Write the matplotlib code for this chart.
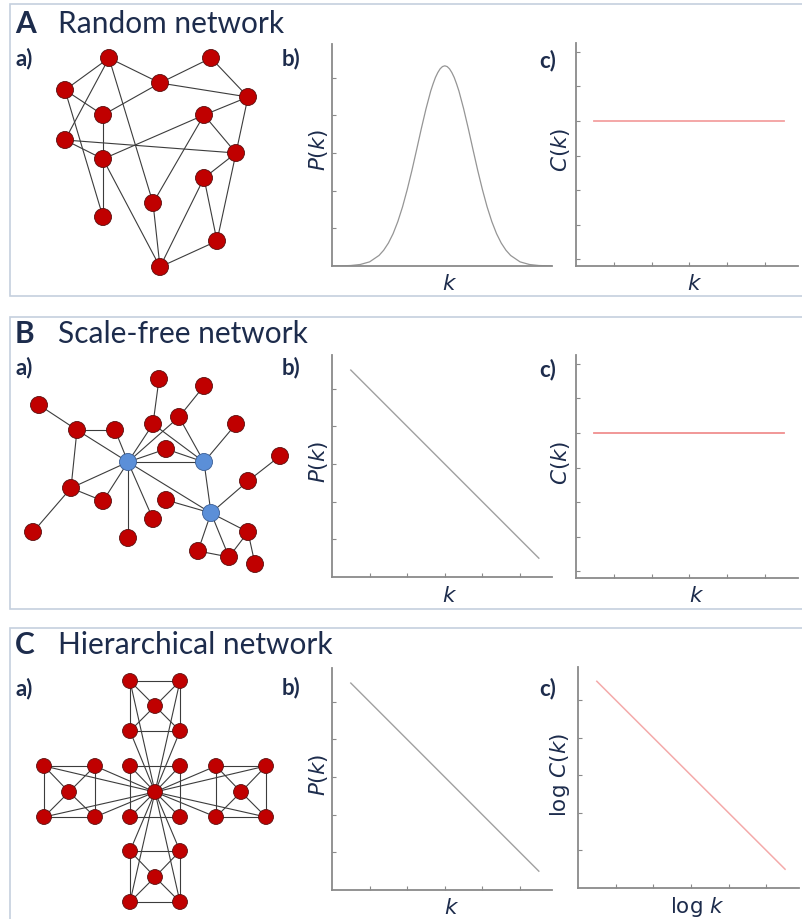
import matplotlib
matplotlib.use("Agg")
import matplotlib.pyplot as plt

W, H = 802, 919
NAVY = '#1d2c4c'
BOX = '#c5d0de'
AXC = '#8a8a8a'
RED = '#c00000'
BLUE = '#5b8fd8'

# ---- network node positions (pixels) ----
rand_x = [109, 211, 65, 160, 248, 103, 204, 65, 236, 103, 204, 153, 103, 217, 160]
rand_y = [58, 58, 90, 83, 97, 115, 115, 140, 153, 159, 178, 203, 217, 241, 267]
rand_edges = [(0, 2), (0, 3), (0, 7), (0, 11), (1, 3), (1, 4), (2, 5), (2, 12), (3, 5), (3, 4),
              (4, 6), (4, 8), (6, 9), (6, 8), (6, 11), (7, 8), (7, 9), (5, 9), (9, 12), (9, 14),
              (11, 14), (10, 14), (10, 13), (10, 8), (8, 13), (13, 14)]

sf_x = [128, 204, 211, 39, 77, 115, 159, 204, 153, 179, 236, 166, 280, 71, 103, 166, 248, 33,
        153, 128, 248, 198, 229, 255]
sf_y = [462, 462, 513, 405, 430, 430, 379, 386, 424, 417, 424, 449, 456, 488, 501, 500, 481, 532,
        519, 538, 532, 551, 557, 564]
sf_hubs = [0, 1, 2]
sf_edges = [(3, 4), (4, 5), (4, 0), (4, 13), (5, 0), (6, 8), (8, 0), (8, 1), (7, 9), (9, 0),
            (9, 1), (11, 0), (11, 1), (0, 1), (1, 10), (1, 2), (0, 13), (0, 14), (0, 18), (0, 19),
            (0, 2), (13, 14), (13, 17), (15, 2), (16, 2), (16, 12), (2, 20), (2, 21), (2, 22),
            (21, 22), (22, 20), (20, 23)]

# modules: centre, top, left, right, bottom; each = centre, TL, TR, BL, BR
hier_x = [155, 130, 180, 130, 180,
          155, 130, 180, 130, 180,
          69, 44, 95, 44, 95,
          241, 216, 266, 216, 266,
          155, 130, 180, 130, 180]
hier_y = [792, 766, 766, 817, 817,
          706, 681, 681, 731, 731,
          792, 766, 766, 817, 817,
          792, 766, 766, 817, 817,
          877, 851, 851, 902, 902]
hier_edges = []
for m in range(5):
    b = 5 * m
    hier_edges += [(b, b + 1), (b, b + 2), (b, b + 3), (b, b + 4),
                   (b + 1, b + 2), (b + 3, b + 4), (b + 1, b + 3), (b + 2, b + 4)]
    if m > 0:
        hier_edges += [(0, b + 1), (0, b + 2), (0, b + 3), (0, b + 4)]

# ---- degree / clustering curves ----
k_gauss = [0.0, 0.25, 0.5, 0.75, 1.0, 1.25, 1.375, 1.5, 1.625, 1.75, 1.875, 2.0, 2.125, 2.25,
           2.375, 2.5, 2.625, 2.6875, 2.75, 2.8125, 2.875, 2.9375, 3.0, 3.0625, 3.125, 3.1875,
           3.25, 3.3125, 3.375, 3.5, 3.625, 3.75, 3.875,
           4.0, 4.125, 4.25, 4.375, 4.5, 4.625, 4.75, 5.0, 5.25, 5.5, 5.85]
p_gauss = [0.0, 0.004, 0.013, 0.04, 0.11, 0.28, 0.42, 0.61, 0.86, 1.18, 1.57, 2.03, 2.54, 3.09,
           3.65, 4.18, 4.65, 4.84, 5.01, 5.14, 5.24, 5.30, 5.32, 5.30, 5.24, 5.14,
           5.01, 4.84, 4.65, 4.18, 3.65, 3.09, 2.54,
           2.03, 1.57, 1.18, 0.86, 0.61, 0.42, 0.28, 0.11, 0.04, 0.013, 0.0]
k_line = [0.5, 5.5]
p_powerlaw = [5.5, 0.5]
k_flat = [0.48, 5.5]
c_flat = [4, 4]
logc_hier = [5.5, 0.5]

titles = [('A', 'Random network', 24), ('B', 'Scale-free network', 334), ('C', 'Hierarchical network', 645)]
sub_y = [(59, 59, 61), (368, 368, 370), (689, 688, 689)]
box_rows = [(4, 296), (317, 609), (628, 925)]

fig = plt.figure(figsize=(W / 100, H / 100), dpi=100)
bg = fig.add_axes([0, 0, 1, 1])
bg.set_xlim(0, W)
bg.set_ylim(H, 0)
bg.axis('off')


def fx(x):
    return x / W


def fy(y):
    return 1 - y / H


for top, bot in box_rows:
    bg.plot([812, 10, 10, 812], [top, top, bot, bot], color=BOX, lw=1.2, solid_joinstyle='miter')

for (letter, name, yc), (ya, yb, yc2) in zip(titles, sub_y):
    fig.text(fx(15), fy(yc), letter, fontsize=21.5, fontweight='bold', color=NAVY,
             family='Lato', va='center')
    fig.text(fx(58), fy(yc), name, fontsize=21.5, color=NAVY, family='Lato', va='center')
    fig.text(fx(16), fy(ya), 'a)', fontsize=16, fontweight='bold', color=NAVY,
             family='Lato', va='center')
    fig.text(fx(282), fy(yb), 'b)', fontsize=16, fontweight='bold', color=NAVY,
             family='Lato', va='center')
    fig.text(fx(539), fy(yc2), 'c)', fontsize=16, fontweight='bold', color=NAVY,
             family='Lato', va='center')


def draw_net(xs, ys, edges, size, colors, edgecol):
    for i, j in edges:
        bg.plot([xs[i], xs[j]], [ys[i], ys[j]], color='#3c3c3c', lw=0.8, zorder=2)
    bg.scatter(xs, ys, s=size, c=colors, edgecolors=edgecol, linewidths=0.6, zorder=3)


draw_net(rand_x, rand_y, rand_edges, 150, [RED] * len(rand_x), '#5a1010')
sf_cols = [BLUE if i in sf_hubs else RED for i in range(len(sf_x))]
sf_edgecols = ['#3b5f96' if i in sf_hubs else '#5a1010' for i in range(len(sf_x))]
draw_net(sf_x, sf_y, sf_edges, 150, sf_cols, sf_edgecols)
draw_net(hier_x, hier_y, hier_edges, 115, [RED] * len(hier_x), '#5a1010')


def make_ax(x0, x1, y0, y1, xlim, ylim, xt, yt):
    ax = fig.add_axes([fx(x0), fy(y1), (x1 - x0) / W, (y1 - y0) / H])
    ax.set_xlim(*xlim)
    ax.set_ylim(*ylim)
    for s in ['top', 'right']:
        ax.spines[s].set_visible(False)
    for s in ['left', 'bottom']:
        ax.spines[s].set_color(AXC)
        ax.spines[s].set_linewidth(1.3)
    ax.set_xticks(xt)
    ax.set_yticks(yt)
    ax.tick_params(direction='in', length=3, width=0.8, color=AXC,
                   labelbottom=False, labelleft=False)
    ax.patch.set_alpha(0)
    return ax


LBL = dict(fontsize=15.5, color=NAVY, family='Open Sans', ha='center', va='center')

# row A
ax = make_ax(332, 552, 44, 266, (0, 5.85), (0, 5.9), [], [1, 2, 3, 4, 5])
ax.plot(k_gauss, p_gauss, color='#959595', lw=0.9)
ax = make_ax(576, 798, 43, 266, (0, 5.87), (-0.2, 6.26), [1, 2, 3, 4, 5], [0, 1, 2, 3, 4, 5, 6])
ax.plot(k_flat, c_flat, color='#f3a0a0', lw=1.3)
fig.text(fx(318), fy(150), '$P(k)$', rotation=90, **LBL)
fig.text(fx(450), fy(284), '$k$', **LBL)
fig.text(fx(560), fy(150), '$C(k)$', rotation=90, **LBL)
fig.text(fx(695), fy(284), '$k$', **LBL)

# row B
ax = make_ax(332, 552, 355, 577, (0, 5.85), (0, 5.9), [1, 2, 3, 4, 5], [1, 2, 3, 4, 5])
ax.plot(k_line, p_powerlaw, color='#a0a0a0', lw=1.0)
ax = make_ax(576, 798, 355, 578, (0, 5.87), (-0.2, 6.26), [1, 2, 3, 4, 5], [0, 1, 2, 3, 4, 5, 6])
ax.plot(k_flat, c_flat, color='#f08f8f', lw=1.3)
fig.text(fx(318), fy(462), '$P(k)$', rotation=90, **LBL)
fig.text(fx(450), fy(596), '$k$', **LBL)
fig.text(fx(560), fy(463), '$C(k)$', rotation=90, **LBL)
fig.text(fx(697), fy(596), '$k$', **LBL)

# row C
ax = make_ax(332, 552, 668, 890, (0, 5.85), (0, 5.9), [1, 2, 3, 4, 5], [1, 2, 3, 4, 5])
ax.plot(k_line, p_powerlaw, color='#a0a0a0', lw=1.0)
ax = make_ax(578, 799, 667, 888, (0, 5.87), (0, 5.88), [1, 2, 3, 4, 5], [1, 2, 3, 4, 5])
ax.plot(k_line, logc_hier, color='#f4aaaa', lw=1.1)
fig.text(fx(318), fy(775), '$P(k)$', rotation=90, **LBL)
fig.text(fx(452), fy(909), '$k$', **LBL)
fig.text(fx(560), fy(775), r'$\mathrm{log}\ C(k)$', rotation=90, **LBL)
fig.text(fx(697), fy(907), r'$\mathrm{log}\ k$', **LBL)

fig.savefig('out.png', dpi=100)
